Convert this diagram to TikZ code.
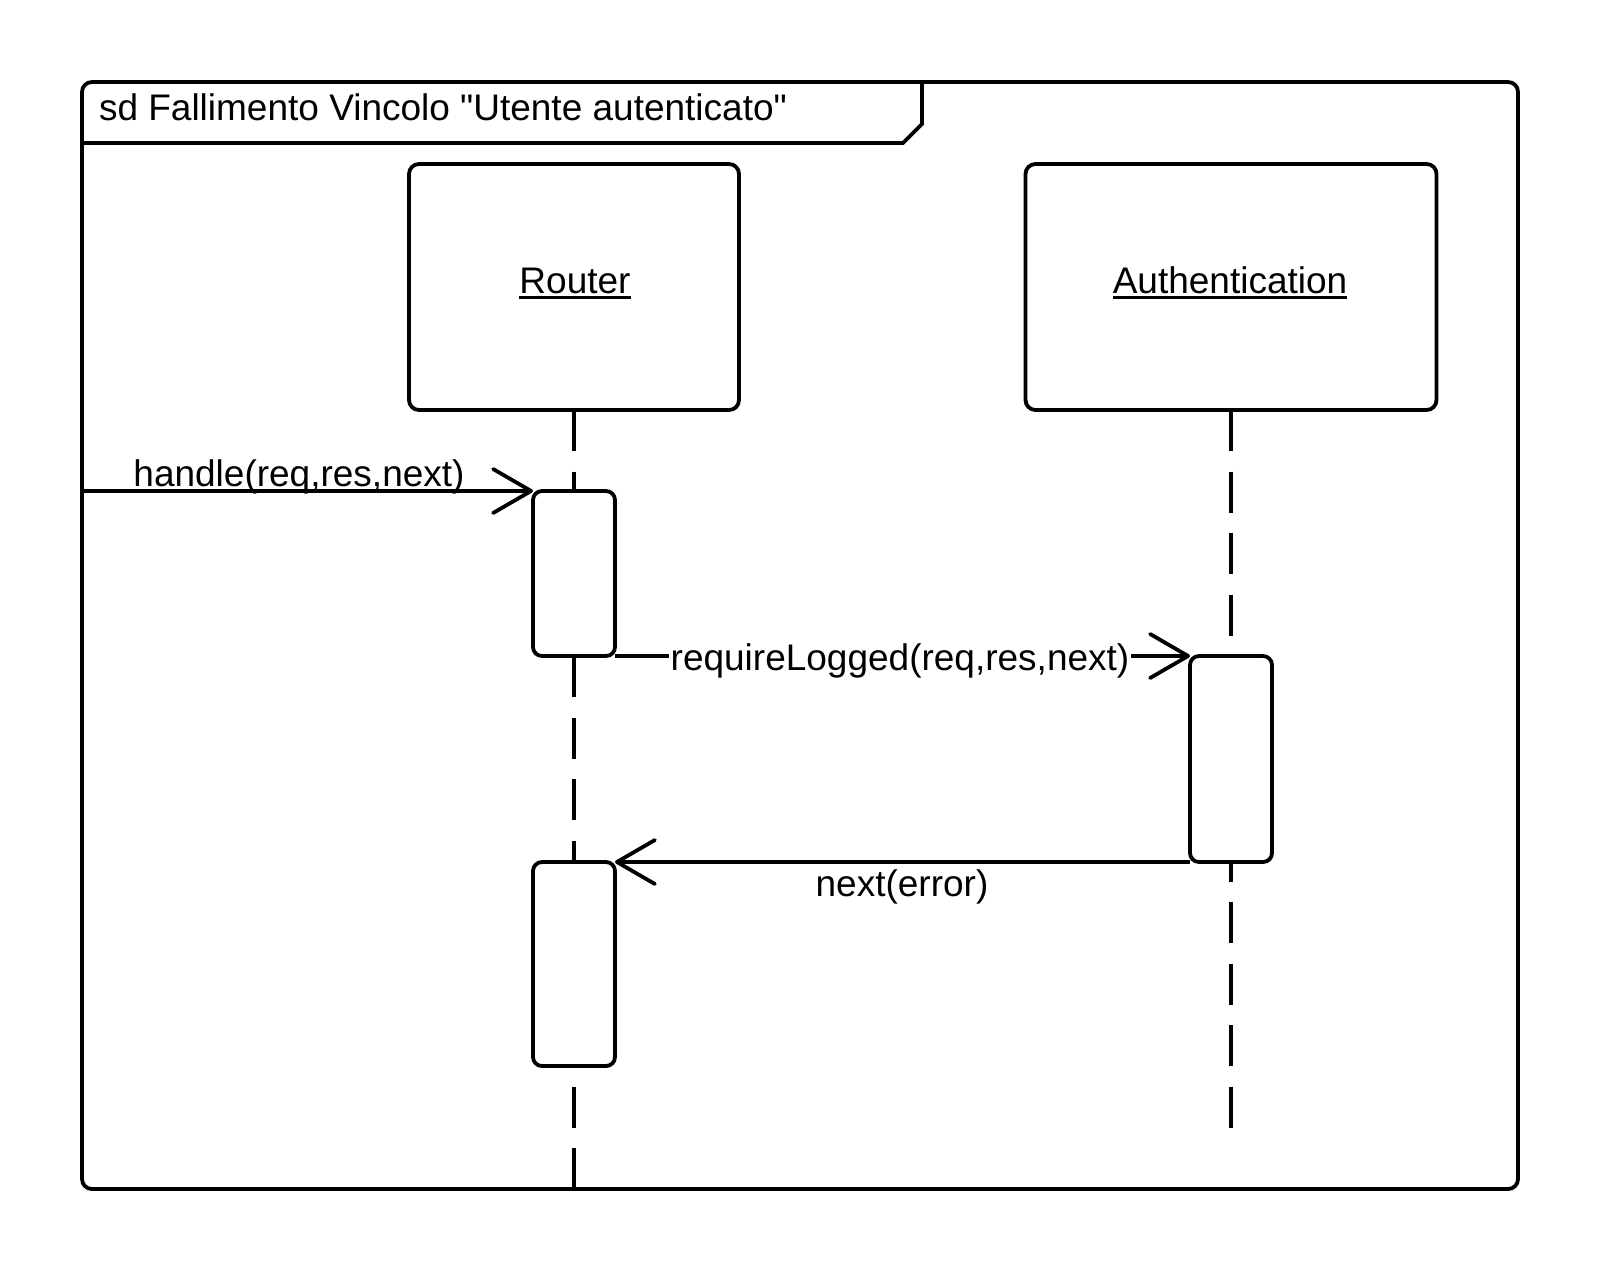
\documentclass[tikz,border=0pt]{standalone}
\usepackage{fontspec}
\setmainfont{Liberation Sans}[Ligatures=TeXOff]
\usetikzlibrary{arrows.meta}
\begin{document}
\begin{tikzpicture}[x=1pt,y=-1pt,
  every node/.style={font=\fontsize{37}{44}\selectfont, inner sep=0pt, outer sep=0pt},
  box/.style={draw, line width=3.8pt, rounded corners=10pt, fill=white},
  lifeline/.style={line width=3.6pt, dash pattern=on 41pt off 20.5pt},
  msg/.style={line width=3.8pt, line join=round, -{Straight Barb[length=38pt,width=44pt,round]}},
  lbl/.style={anchor=base},
  uline/.style={line width=2.8pt}]
\useasboundingbox (0,0) rectangle (1600,1272);
% frame
\node[box, fill=none, minimum width=1436pt, minimum height=1107pt] (frame) at (800,635.5) {};
\draw[line width=3.8pt, line join=miter] (frame.west |- 0,143) -- (903,143) -- (922,124) -- (frame.north -| 922,0);
\node[anchor=base west] (title) at (99,120) {sd Fallimento Vincolo "Utente autenticato"};
% lifeline heads
\node[box, minimum width=330pt, minimum height=246pt] (rbox) at (574,287) {};
\node[box, minimum width=411pt, minimum height=246pt] (abox) at (1231,287) {};
\node[lbl] (rlabel) at (575,293) {Router};
\node[lbl] (alabel) at (1230,293) {Authentication};
\draw[uline] ([yshift=-4.5pt]rlabel.base west) -- ([yshift=-4.5pt]rlabel.base east);
\draw[uline] ([yshift=-4.5pt]alabel.base west) -- ([yshift=-4.5pt]alabel.base east);
% lifelines
\coordinate (aend) at (1231,1128);
\draw[lifeline] (rbox.south) -- (rbox.south |- frame.south);
\draw[lifeline] (abox.south) -- (aend);
% activations
\node[box, rounded corners=9pt, minimum width=82pt, minimum height=165pt] (act1) at (574,573.5) {};
\node[box, rounded corners=9pt, minimum width=82pt, minimum height=204pt] (act2) at (574,964) {};
\node[box, rounded corners=9pt, minimum width=82pt, minimum height=206pt] (act3) at (1231,759) {};
% messages
\draw[msg] (frame.west |- act1.north) -- (act1.north west);
\node[lbl] (m1) at (299,486.7) {handle(req,res,next)};
\draw[msg] (act1.south east) -- (act3.north west);
\node[lbl, fill=white, inner sep=1.5pt] (m2) at (900,670) {requireLogged(req,res,next)};
\draw[msg] (act3.south west) -- (act2.north east);
\node[lbl] (m3) at (902,896) {next(error)};
\end{tikzpicture}
\end{document}
